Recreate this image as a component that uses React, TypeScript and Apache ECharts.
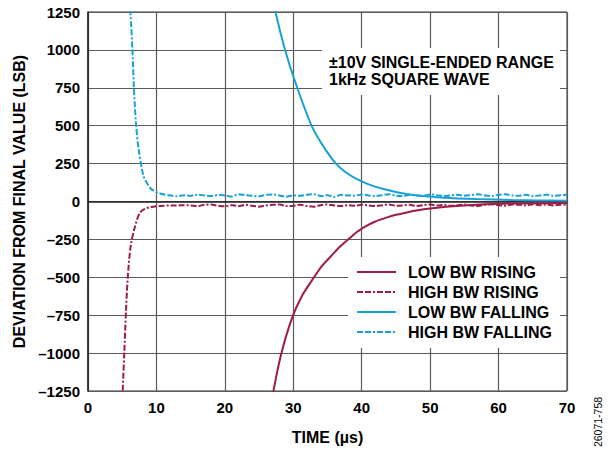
import React, { useEffect, useRef } from "react";
import * as echarts from "echarts";

const SERIES_NAMES = ["LOW BW RISING", "HIGH BW RISING", "LOW BW FALLING", "HIGH BW FALLING"];

const lowRisingT = [26.9, 27.1, 28.2, 29.8, 31.3, 32.9, 34.2, 35.6, 36.8, 38.1, 39.2, 40.3, 42, 43.7, 45, 46.6, 48.2, 50, 52, 54.4, 56.8, 59.2, 62, 65, 70];
const lowRisingV = [-1320, -1250, -1012, -771, -620, -509, -425, -356, -298, -247, -205, -170, -132, -105, -88, -72, -58, -46, -36, -28, -21, -16, -13, -12, -10];

const highRisingT = [5.0, 5.07, 5.3, 5.55, 5.8, 6.25, 6.9, 7.6, 8.3, 9.1, 10, 11, 12, 13, 14, 15, 16, 17, 18, 19, 20, 21, 22, 23, 24, 25, 26, 27, 28, 29, 30, 31, 32, 33, 34, 35, 36, 37, 38, 39, 40, 41, 42, 43, 44, 45, 46, 47, 48, 49, 50, 51, 52, 53, 54, 55, 56, 57, 58, 59, 60, 61, 62, 63, 64, 65, 66, 67, 68, 69, 70];
const highRisingV = [-1300, -1250, -1000, -725, -510, -290, -160, -72, -48, -38, -32, -28, -26, -27, -24, -26, -30, -22, -20, -28, -32, -24, -30, -22, -28, -34, -26, -22, -20, -30, -28, -22, -30, -34, -24, -20, -26, -30, -24, -28, -22, -26, -30, -24, -20, -28, -26, -22, -30, -24, -20, -26, -22, -28, -24, -20, -26, -30, -22, -18, -24, -28, -20, -22, -26, -18, -24, -20, -26, -22, -20];

const lowFallingT = [27.2, 27.4, 28.8, 30.5, 32.7, 34.3, 36.1, 37.6, 39.3, 41.2, 43.2, 45.5, 48.5, 52, 56.8, 62, 66, 70];
const lowFallingV = [1320, 1250, 1000, 760, 497, 370, 257, 195, 148, 110, 82, 58, 38, 25, 16, 10, 7, 5];

const highFallingT = [6.1, 6.2, 6.5, 6.7, 7.0, 7.4, 8.1, 8.7, 9.3, 10.2, 11, 12, 13, 14, 15, 16, 17, 18, 19, 20, 21, 22, 23, 24, 25, 26, 27, 28, 29, 30, 31, 32, 33, 34, 35, 36, 37, 38, 39, 40, 41, 42, 43, 44, 45, 46, 47, 48, 49, 50, 51, 52, 53, 54, 55, 56, 57, 58, 59, 60, 61, 62, 63, 64, 65, 66, 67, 68, 69, 70];
const highFallingV = [1320, 1250, 1000, 760, 520, 345, 170, 115, 80, 58, 48, 40, 35, 42, 38, 45, 40, 36, 44, 40, 33, 48, 42, 38, 35, 44, 47, 40, 32, 40, 38, 45, 48, 36, 42, 30, 44, 40, 38, 46, 40, 35, 42, 48, 38, 36, 44, 40, 38, 46, 42, 36, 40, 44, 38, 42, 47, 40, 36, 44, 48, 40, 38, 44, 36, 40, 45, 38, 42, 44];

const X_TICKS = { min: 0, max: 70, interval: 10 };
const Y_TICKS = { min: -1250, max: 1250, interval: 250 };

const MAROON = "#9E1C46";
const BLUE = "#16A2D7";
const FONT = "'Liberation Sans', Arial, Helvetica, sans-serif";

function zip(t: number[], v: number[]) {
  return t.map((x, i) => [x, v[i]]);
}

export default function App() {
  const ref = useRef<HTMLDivElement>(null);
  useEffect(() => {
    if (!ref.current) return;
    const chart = echarts.init(ref.current, undefined, { renderer: "svg" });
    const dashed = [6, 2, 6, 2, 2, 2];
    const mk = (name: string, data: number[][], color: string, dash: any) => ({
      name,
      type: "line",
      data,
      symbol: "none",
      showSymbol: false,
      smooth: 0.3,
      clip: true,
      lineStyle: { color, width: 2, type: dash },
      itemStyle: { color },
      z: 2,
    });
    chart.setOption({
      animation: false,
      textStyle: { fontFamily: FONT },
      grid: {
        left: 88,
        right: 44,
        top: 12,
        bottom: 57,
        show: true,
        borderColor: "#333",
        borderWidth: 1,
        backgroundColor: "transparent",
      },
      xAxis: {
        type: "value",
        ...X_TICKS,
        name: "TIME (µs)",
        nameLocation: "middle",
        nameGap: 38,
        nameTextStyle: { fontFamily: FONT, fontWeight: "bold", fontSize: 16, color: "#000" },
        axisLine: { show: true, lineStyle: { color: "#222", width: 1.5 } },
        axisTick: { show: false },
        axisLabel: { fontFamily: FONT, fontWeight: "bold", fontSize: 15, color: "#000", margin: 9 },
        splitLine: { show: true, lineStyle: { color: "#5a5a5a", width: 1.2 } },
      },
      yAxis: {
        type: "value",
        ...Y_TICKS,
        name: "DEVIATION FROM FINAL VALUE (LSB)",
        nameLocation: "middle",
        nameGap: 60,
        nameTextStyle: { fontFamily: FONT, fontWeight: "bold", fontSize: 16, color: "#000" },
        axisLine: { show: true, lineStyle: { color: "#222", width: 1.5 } },
        axisTick: { show: false },
        axisLabel: {
          fontFamily: FONT,
          fontWeight: "bold",
          fontSize: 15,
          color: "#000",
          margin: 8,
          formatter: (v: number) => (v < 0 ? "\u2013" + Math.abs(v) : String(v)),
        },
        splitLine: { show: true, lineStyle: { color: "#5a5a5a", width: 1.2 } },
      },
      legend: {
        orient: "vertical",
        left: 356,
        top: 264,
        itemWidth: 39,
        itemHeight: 4,
        itemGap: 4,
        padding: 0,
        itemStyle: { opacity: 0 },
        textStyle: { fontFamily: FONT, fontWeight: "bold", fontSize: 16, color: "#000", padding: [0, 0, 0, 7] },
        data: SERIES_NAMES,
        z: 5,
      },
      graphic: [
        { type: "rect", shape: { x: 348, y: 257, width: 212, height: 91 }, style: { fill: "#fff" }, z: 4 },
        { type: "rect", shape: { x: 322, y: 48, width: 238, height: 47 }, style: { fill: "#fff" }, z: 4 },
        {
          type: "text",
          left: 329,
          top: 54,
          z: 5,
          style: {
            text: "±10V SINGLE-ENDED RANGE\n1kHz SQUARE WAVE",
            font: "bold 16px " + FONT,
            fill: "#000",
            lineHeight: 17,
          },
        },
        {
          type: "text",
          x: 598,
          y: 422,
          rotation: Math.PI / 2,
          z: 5,
          style: { text: "26071-758", font: "10.5px " + FONT, fill: "#000", align: "center", verticalAlign: "middle" },
        },
      ],
      series: [
        mk(SERIES_NAMES[0], zip(lowRisingT, lowRisingV), MAROON, "solid"),
        mk(SERIES_NAMES[1], zip(highRisingT, highRisingV), MAROON, dashed),
        mk(SERIES_NAMES[2], zip(lowFallingT, lowFallingV), BLUE, "solid"),
        mk(SERIES_NAMES[3], zip(highFallingT, highFallingV), BLUE, dashed),
      ],
    });
    return () => chart.dispose();
  }, []);
  return <div ref={ref} style={{ width: 611, height: 450, position: "absolute", left: 0, top: 0 }} />;
}
